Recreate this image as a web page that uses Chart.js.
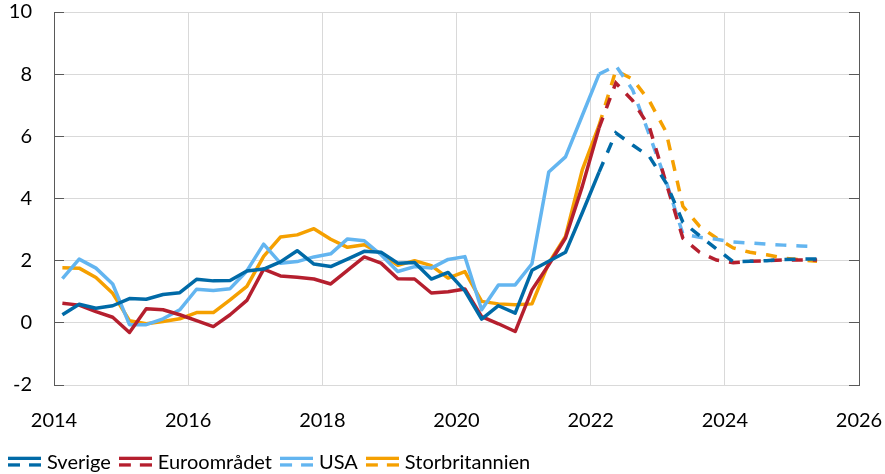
<!DOCTYPE html>
<html>
<head>
<meta charset="utf-8">
<script src="https://cdn.jsdelivr.net/npm/chart.js@4"></script>
<style>
  html, body { margin: 0; padding: 0; background: #fff; }
</style>
</head>
<body>
<canvas id="inflationChart" width="885" height="474"></canvas>
<script>
// Kvartal 2014Q1 - 2025Q2
const quarters = [];
for (let year = 2014; year <= 2025; year++) {
  for (let q = 1; q <= 4; q++) quarters.push(year + "Q" + q);
}
quarters.length = 46;

// Utfall (t.o.m. 2022Q1)
const sverige = [
  0.26, 0.6, 0.47, 0.55, 0.78, 0.76, 0.91, 0.97, 1.4, 1.35, 1.36, 1.67,
  1.73, 1.96, 2.32, 1.89, 1.81, 2.05, 2.3, 2.27, 1.92, 1.94, 1.41, 1.62,
  1.03, 0.12, 0.55, 0.31, 1.69, 1.98, 2.27, 3.54, 4.85,
];
const euroomradet = [
  0.63, 0.57, 0.36, 0.18, -0.31, 0.45, 0.42, 0.26, 0.07, -0.12, 0.26, 0.72,
  1.73, 1.51, 1.47, 1.41, 1.25, 1.69, 2.12, 1.92, 1.42, 1.41, 0.96, 1.0,
  1.09, 0.2, -0.03, -0.28, 1.06, 1.87, 2.73, 4.39, 6.27,
];
const usa = [
  1.42, 2.05, 1.76, 1.25, -0.06, -0.06, 0.13, 0.42, 1.08, 1.04, 1.1, 1.67,
  2.53, 1.92, 1.97, 2.12, 2.22, 2.7, 2.64, 2.19, 1.65, 1.81, 1.76, 2.04,
  2.13, 0.42, 1.22, 1.22, 1.9, 4.85, 5.34, 6.67, 8.0,
];
const storbritannien = [
  1.77, 1.76, 1.46, 0.95, 0.07, -0.03, 0.04, 0.13, 0.33, 0.33, 0.74, 1.17,
  2.14, 2.76, 2.83, 3.03, 2.69, 2.43, 2.51, 2.22, 1.85, 2.0, 1.84, 1.44,
  1.65, 0.69, 0.61, 0.58, 0.61, 1.92, 2.78, 4.92, 6.35,
];

// Prognos (fr.o.m. 2022Q1)
const sverigeProg = [4.85, 6.11, 5.72, 5.35, 4.5, 3.24, 2.8, 2.38, 1.96, 1.98, 2.0, 2.04, 2.05, 2.05];
const euroomradetProg = [6.27, 7.72, 7.15, 6.3, 4.5, 2.72, 2.27, 2.02, 1.93, 1.98, 2.0, 2.02, 2.02, 2.02];
const usaProg = [8.0, 8.27, 7.5, 6.05, 4.55, 2.86, 2.75, 2.69, 2.6, 2.57, 2.53, 2.5, 2.47, 2.45];
const storbritannienProg = [6.35, 8.12, 7.84, 7.14, 6.14, 3.75, 3.1, 2.73, 2.41, 2.27, 2.19, 2.08, 2.03, 1.98];

const yTicks = [-2, 0, 2, 4, 6, 8, 10];
const xTicks = [2014, 2016, 2018, 2020, 2022, 2024, 2026];

const FONT = "Lato, 'Open Sans', sans-serif";
const AXIS = "#595959";
const GRID = "#d9d9d9";

// kvartal -> decimalår (mitt i kvartalet)
function qx(label) {
  const y = parseInt(label.slice(0, 4), 10);
  const q = parseInt(label.slice(5), 10);
  return y + (q - 0.5) / 4;
}

function toPoints(values, offset) {
  return values.map((v, i) => ({ x: qx(quarters[offset + i]), y: v }));
}

const series = [
  { label: "Sverige", color: "#006AA7", hist: sverige, prog: sverigeProg },
  { label: "Euroområdet", color: "#B51F2E", hist: euroomradet, prog: euroomradetProg },
  { label: "USA", color: "#63B5F0", hist: usa, prog: usaProg },
  { label: "Storbritannien", color: "#F5A000", hist: storbritannien, prog: storbritannienProg },
];

// legendsymbol: heldragen linje över streckad
function legendIcon(color) {
  const c = document.createElement("canvas");
  c.width = 33;
  c.height = 14;
  const g = c.getContext("2d");
  g.fillStyle = color;
  g.fillRect(0, 0.7, 33, 3.3);
  g.fillRect(0, 7.3, 12, 3.3);
  g.fillRect(21, 7.3, 12, 3.3);
  return c;
}

const datasets = [];
series.forEach((s) => {
  datasets.push({
    label: s.label,
    data: toPoints(s.hist, 0),
    borderColor: s.color,
    backgroundColor: s.color,
    borderWidth: 3.5,
    pointRadius: 0,
    tension: 0,
    borderJoinStyle: "round",
    fill: false,
  });
  datasets.push({
    label: s.label + " prognos",
    data: toPoints(s.prog, sverige.length - 1),
    borderColor: s.color,
    backgroundColor: s.color,
    borderWidth: 3.5,
    borderDash: [11, 10],
    borderCapStyle: "butt",
    pointRadius: 0,
    tension: 0,
    fill: false,
  });
});

const ctx = document.getElementById("inflationChart").getContext("2d");
new Chart(ctx, {
  type: "line",
  data: { datasets: datasets },
  options: {
    responsive: false,
    animation: false,
    layout: { padding: { top: 12, right: 26, bottom: -9, left: 0 } },
    scales: {
      x: {
        type: "linear",
        min: xTicks[0],
        max: xTicks[xTicks.length - 1],
        afterBuildTicks: (scale) => { scale.ticks = xTicks.map((v) => ({ value: v })); },
        afterFit: (scale) => {
          scale.height = 56;
          scale.paddingLeft = 0;
          scale.paddingRight = 0;
        },
        ticks: {
          callback: (v) => String(v),
          padding: 24,
          color: "#000",
          font: { family: FONT, size: 20 },
          maxRotation: 0,
        },
        grid: {
          drawTicks: false,
          color: (c) => (c.tick && (c.tick.value === 2014 || c.tick.value === 2026) ? "rgba(0,0,0,0)" : GRID),
        },
        border: { display: false },
      },
      y: {
        position: "left",
        min: -2,
        max: 10,
        afterBuildTicks: (scale) => { scale.ticks = yTicks.map((v) => ({ value: v })); },
        afterFit: (scale) => {
          scale.width = 54;
          scale.paddingTop = 12;
          scale.paddingBottom = 12;
        },
        ticks: {
          padding: 32,
          color: "#000",
          font: { family: FONT, size: 20 },
        },
        grid: { color: GRID, tickLength: -10, tickColor: AXIS },
        border: { color: AXIS, width: 1 },
      },
      y2: {
        position: "right",
        min: -2,
        max: 10,
        afterBuildTicks: (scale) => { scale.ticks = yTicks.map((v) => ({ value: v })); },
        afterFit: (scale) => {
          scale.width = 0;
          scale.paddingTop = 0;
          scale.paddingBottom = 0;
        },
        ticks: { display: false },
        grid: { drawOnChartArea: false, tickLength: -10, tickColor: AXIS },
        border: { color: AXIS, width: 1 },
      },
    },
    plugins: {
      title: { display: false },
      tooltip: { enabled: false },
      legend: {
        position: "bottom",
        align: "start",
        labels: {
          usePointStyle: true,
          pointStyleWidth: 25,
          padding: 12,
          color: "#000",
          font: { family: FONT, size: 20 },
          generateLabels: () =>
            series.map((s, i) => ({
              text: s.label,
              pointStyle: legendIcon(s.color),
              fillStyle: s.color,
              strokeStyle: s.color,
              lineWidth: 0,
              hidden: false,
              datasetIndex: i * 2,
            })),
        },
      },
    },
  },
});
</script>
</body>
</html>
